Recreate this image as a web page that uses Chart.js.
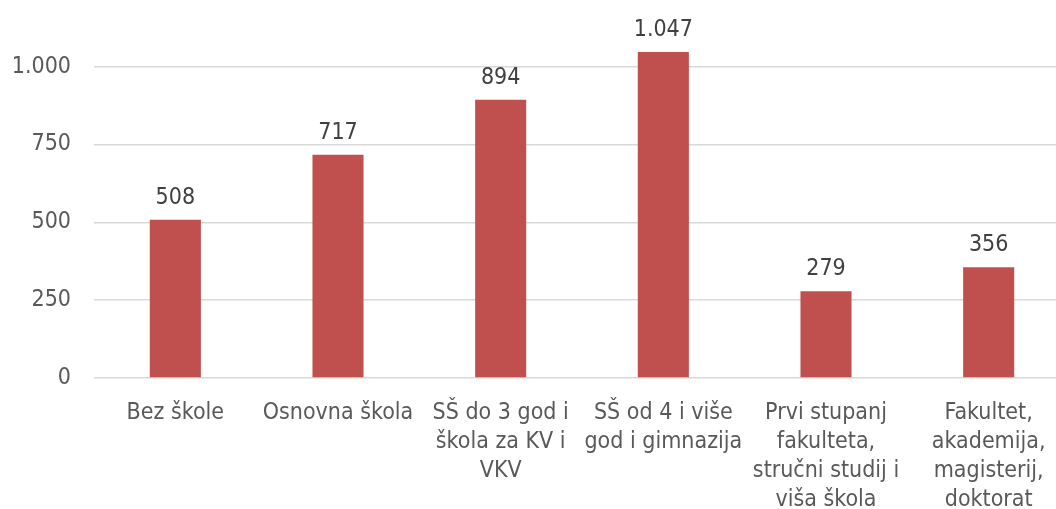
<!DOCTYPE html>
<html>
<head>
<meta charset="utf-8">
<script src="https://cdn.jsdelivr.net/npm/chart.js@4"></script>
<style>
    html, body { margin: 0; padding: 0; background: #ffffff; overflow: hidden; }
    #wrap { position: relative; width: 1070px; height: 509px; }
</style>
</head>
<body>
<div id="wrap"><canvas id="educationChart"></canvas></div>
<script>
// Data
const categories = [
    'Bez škole',
    'Osnovna škola',
    ['SŠ do 3 god i', 'škola za KV i', 'VKV'],
    ['SŠ od 4 i više', 'god i gimnazija'],
    ['Prvi stupanj', 'fakulteta,', 'stručni studij i', 'viša škola'],
    ['Fakultet,', 'akademija,', 'magisterij,', 'doktorat']
];
const values = [508, 717, 894, 1047, 279, 356];
const yTicks = [0, 250, 500, 750, 1000];

const FONT = "'DejaVu Sans Condensed', 'DejaVu Sans', sans-serif";

function formatNumber(n) {
    // thousands separator is a dot
    return String(n).replace(/\B(?=(\d{3})+(?!\d))/g, '.');
}

// draws the value above each bar
const valueLabels = {
    id: 'valueLabels',
    afterDatasetsDraw(chart) {
        const ctx = chart.ctx;
        const meta = chart.getDatasetMeta(0);
        ctx.save();
        ctx.font = '23px ' + FONT;
        ctx.fillStyle = '#404040';
        ctx.textAlign = 'center';
        ctx.textBaseline = 'alphabetic';
        meta.data.forEach((bar, i) => {
            ctx.fillText(formatNumber(values[i]), bar.x, bar.y - 16);
        });
        ctx.restore();
    }
};

document.addEventListener('DOMContentLoaded', function() {
    createEducationChart();
});

function createEducationChart() {
    const ctx = document.getElementById('educationChart').getContext('2d');
    new Chart(ctx, {
        type: 'bar',
        data: {
            labels: categories,
            datasets: [{
                data: values,
                backgroundColor: '#c0504d',
                borderWidth: 0,
                categoryPercentage: 1,
                barPercentage: 0.314
            }]
        },
        options: {
            responsive: true,
            maintainAspectRatio: false,
            animation: false,
            layout: {
                autoPadding: false,
                padding: { top: 4, right: 0, bottom: 0, left: 0 }
            },
            scales: {
                x: {
                    grid: { display: false },
                    border: { display: false },
                    ticks: {
                        color: '#595959',
                        font: { family: FONT, size: 23, lineHeight: 1.25 },
                        padding: 13,
                        maxRotation: 0,
                        autoSkip: false
                    },
                    afterFit: scale => { scale.height = 131; }
                },
                y: {
                    min: 0,
                    max: 1096,
                    grid: { color: '#d9d9d9', lineWidth: 1.5, drawTicks: false },
                    border: { display: false },
                    ticks: {
                        stepSize: 250,
                        color: '#595959',
                        font: { family: FONT, size: 23 },
                        padding: 23,
                        callback: value => formatNumber(value)
                    },
                    afterBuildTicks: axis => {
                        axis.ticks = yTicks.map(v => ({ value: v }));
                    },
                    afterFit: scale => { scale.width = 94; }
                }
            },
            plugins: {
                legend: { display: false },
                title: { display: false },
                tooltip: { enabled: false }
            }
        },
        plugins: [valueLabels]
    });
}
</script>
</body>
</html>
